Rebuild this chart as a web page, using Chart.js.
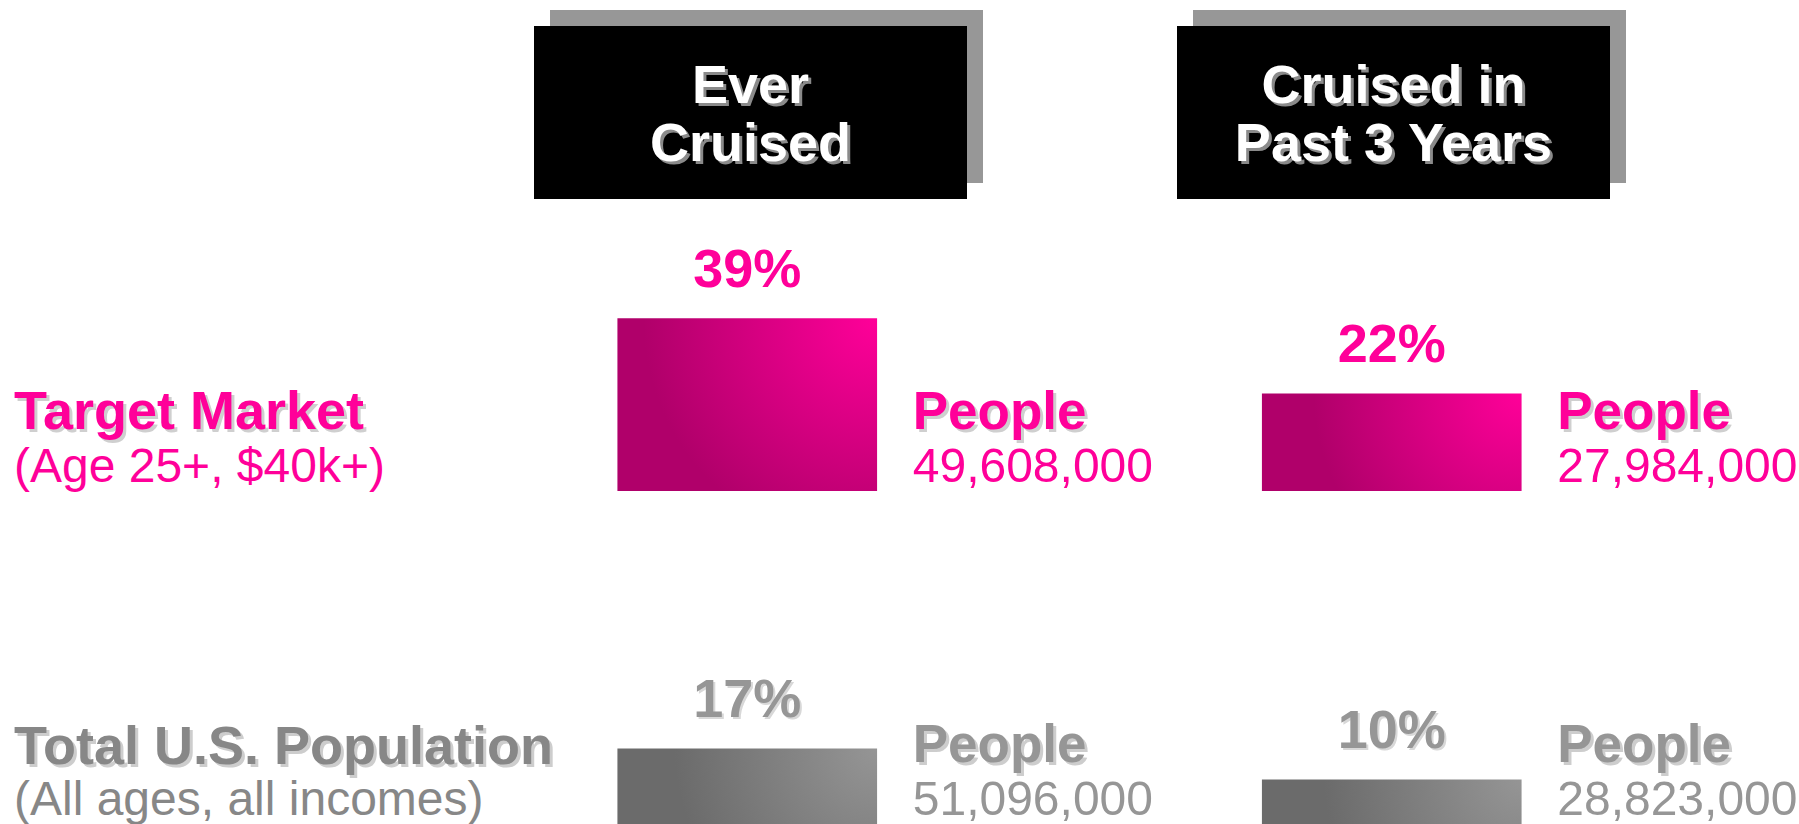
<!DOCTYPE html>
<html>
<head>
<meta charset="utf-8">
<script src="https://cdn.jsdelivr.net/npm/chart.js@4"></script>
<style>
  html, body { margin: 0; padding: 0; background: #fff; }
  body {
    width: 1799px; height: 824px; position: relative; overflow: hidden;
    font-family: "Liberation Sans", Arial, sans-serif;
  }
  canvas { position: absolute; left: 0; }
  .tab-back { position: absolute; top: 10px; width: 433px; height: 173px; background: #979797; }
  .tab {
    position: absolute; top: 26px; width: 433px; height: 173px; box-sizing: border-box;
    padding-top: 29px; background: #000; color: #fff; text-align: center;
    font-weight: bold; font-size: 54px; line-height: 58px;
    text-shadow: 3px 3px 0 #8a8a8a;
  }
  .row-title {
    position: absolute; left: 14px; white-space: nowrap;
    font-weight: bold; font-size: 54px; line-height: 58px;
  }
  .row-note {
    position: absolute; left: 14px; white-space: nowrap;
    font-size: 48px; line-height: 50px;
  }
</style>
</head>
<body>
<script>
// survey columns and the two population rows
const questions = [['Ever', 'Cruised'], ['Cruised in', 'Past 3 Years']];
const rowTitles = ['Target Market', 'Total U.S. Population'];
const rowNotes = ['(Age 25+, $40k+)', '(All ages, all incomes)'];
const targetShare = [39, 22];
const totalShare = [17, 10];
const targetPeople = [49608000, 27984000];
const totalPeople = [51096000, 28823000];

const FONT = '"Liberation Sans", Arial, sans-serif';

const rows = [
  { share: targetShare, people: targetPeople, top: 0,
    text: '#ff0099', light: '#ff0099', dark: '#b0006a',
    titleShadow: '#cfcfcf', pctShadow: null, titleTop: 381, noteTop: 441 },
  { share: totalShare, people: totalPeople, top: 333,
    text: '#969696', light: '#959595', dark: '#6b6b6b', titleColor: '#878787',
    titleShadow: '#cdcdcd', pctShadow: '#d8d8d8', titleTop: 716, noteTop: 774 }
];

// header tabs over each column
const tabLeft = [534, 1177];
questions.forEach(function(lines, i) {
  var back = document.createElement('div');
  back.className = 'tab-back';
  back.style.left = (tabLeft[i] + 16) + 'px';
  document.body.appendChild(back);
  var tab = document.createElement('div');
  tab.className = 'tab';
  tab.style.left = tabLeft[i] + 'px';
  tab.innerHTML = lines.join('<br>');
  document.body.appendChild(tab);
});

// left hand row captions
rows.forEach(function(row, i) {
  var t = document.createElement('div');
  t.className = 'row-title';
  t.textContent = rowTitles[i];
  t.style.top = row.titleTop + 'px';
  t.style.color = row.titleColor || row.text;
  t.style.textShadow = '3px 3px 0 ' + row.titleShadow;
  document.body.appendChild(t);
  var n = document.createElement('div');
  n.className = 'row-note';
  n.textContent = rowNotes[i];
  n.style.top = row.noteTop + 'px';
  n.style.color = row.titleColor || row.text;
  document.body.appendChild(n);
});

// shaded fill, bright in the top right corner of each bar
function barFill(context, row) {
  var chart = context.chart;
  if (!chart.chartArea || !chart.scales.x) return row.dark;
  var x = chart.scales.x.getPixelForValue(context.dataIndex);
  var top = chart.scales.y.getPixelForValue(context.raw);
  var bottom = chart.scales.y.getPixelForValue(0);
  var right = x + 129.5;
  var r = Math.hypot(259, bottom - top) * 0.75;
  var g = chart.ctx.createRadialGradient(right, top, 0, right, top, r);
  g.addColorStop(0, row.light);
  g.addColorStop(1, row.dark);
  return g;
}

function shadow(ctx, color, off) {
  ctx.shadowColor = color || 'rgba(0,0,0,0)';
  ctx.shadowOffsetX = color ? off : 0;
  ctx.shadowOffsetY = color ? off : 0;
  ctx.shadowBlur = 0;
}

// percent above the bar, head count to its right
const barNotes = {
  id: 'barNotes',
  afterDatasetsDraw: function(chart, args, opts) {
    var ctx = chart.ctx;
    var meta = chart.getDatasetMeta(0);
    var values = chart.data.datasets[0].data;
    ctx.save();
    ctx.fillStyle = opts.color;
    ctx.textBaseline = 'alphabetic';
    meta.data.forEach(function(bar, i) {
      ctx.font = 'bold 54px ' + FONT;
      ctx.textAlign = 'center';
      shadow(ctx, opts.pctShadow, 2);
      ctx.fillText(values[i] + '%', bar.x, bar.y - 32);

      var lx = bar.x + bar.width / 2 + 36;
      ctx.textAlign = 'left';
      ctx.font = 'bold 53px ' + FONT;
      shadow(ctx, opts.shadow, 3);
      ctx.fillText('People', lx, bar.base - 62);

      shadow(ctx, null, 0);
      ctx.font = '48px ' + FONT;
      ctx.fillText(opts.people[i].toLocaleString('en-US'), lx, bar.base - 9);
    });
    ctx.restore();
  }
};

rows.forEach(function(row, i) {
  var canvas = document.createElement('canvas');
  canvas.width = 1799;
  canvas.height = 520;
  canvas.style.top = row.top + 'px';
  canvas.style.width = '1799px';
  canvas.style.height = '520px';
  document.body.appendChild(canvas);

  new Chart(canvas, {
    type: 'bar',
    data: {
      labels: questions.map(function(q) { return q.join(' '); }),
      datasets: [{
        label: rowTitles[i],
        data: row.share,
        backgroundColor: function(context) { return barFill(context, row); },
        borderWidth: 0,
        barThickness: 259
      }]
    },
    options: {
      responsive: false,
      animation: false,
      devicePixelRatio: 1,
      layout: { padding: { left: 425, right: 85, top: 49, bottom: 29 } },
      scales: {
        x: { display: false, offset: true, grid: { display: false } },
        y: { display: false, min: 0, max: 100, grid: { display: false } }
      },
      plugins: {
        legend: { display: false },
        tooltip: { enabled: false },
        barNotes: {
          color: row.text,
          shadow: row.titleShadow,
          pctShadow: row.pctShadow,
          people: row.people
        }
      }
    },
    plugins: [barNotes]
  });
});
</script>
</body>
</html>
